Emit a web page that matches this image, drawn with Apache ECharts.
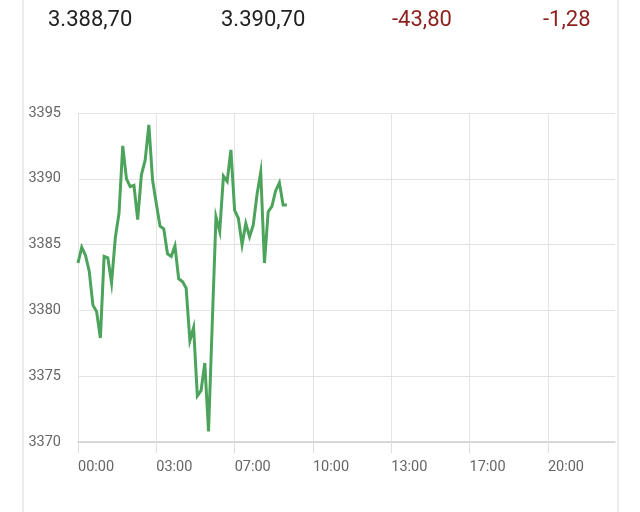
<!DOCTYPE html>
<html>
<head>
<meta charset="utf-8">
<script src="https://cdn.jsdelivr.net/npm/echarts@6/dist/echarts.min.js"></script>
<style>
html,body{margin:0;padding:0;background:#fff;}
#card{position:absolute;left:22px;top:-5px;width:593px;height:530px;border-left:2px solid #ececec;border-right:2px solid #ececec;}
#chart{position:absolute;left:0;top:0;width:640px;height:512px;}
</style>
</head>
<body>
<div id="card"></div>
<div id="chart"></div>
<script>
// header quote values
var headerTexts = ['3.388,70', '3.390,70', '-43,80', '-1,28'];
var headerNegative = [false, false, true, true];

// x axis tick labels, one every 21 data slots
var xTickLabels = ['00:00', '03:00', '07:00', '10:00', '13:00', '17:00', '20:00'];
var slotsPerLabel = 21;
var totalSlots = 144;

// price values, one per slot from the start of the day
var prices = [
  3383.6, 3384.8, 3384.2, 3383.0, 3380.4, 3379.9, 3377.9, 3384.1, 3384.0, 3382.1,
  3385.5, 3387.4, 3392.5, 3390.0, 3389.4, 3389.5, 3386.9, 3390.3, 3391.4, 3394.1,
  3389.9, 3388.1, 3386.4, 3386.2, 3384.3, 3384.1, 3384.9, 3382.4, 3382.2, 3381.7,
  3377.7, 3378.7, 3373.5, 3373.9, 3376.0, 3370.8, 3379.0, 3387.1, 3386.0, 3390.2,
  3389.8, 3392.2, 3387.6, 3387.0, 3385.0, 3386.6, 3385.6, 3386.5, 3388.8, 3390.5,
  3383.6, 3387.5, 3387.9, 3389.1, 3389.7, 3388.0, 3388.0
];

var yMin = 3370, yMax = 3395, yStep = 5;

var seriesData = prices.map(function (v, i) { return [i, v]; });

var headerX = [48, 221, 392, 543];
var graphics = headerTexts.map(function (t, i) {
  return {
    type: 'text',
    left: headerX[i],
    top: 9,
    style: {
      text: t,
      fontSize: 22,
      fontFamily: 'Roboto, "Noto Sans", sans-serif',
      fill: headerNegative[i] ? '#8e1f1c' : '#222222'
    }
  };
});

var chart = echarts.init(document.getElementById('chart'), null, {renderer: 'canvas'});
chart.setOption({
  animation: false,
  backgroundColor: 'transparent',
  graphic: graphics,
  grid: {left: 78, right: 25, top: 113, bottom: 70, containLabel: false},
  xAxis: {
    type: 'value',
    min: 0,
    max: totalSlots,
    interval: slotsPerLabel,
    axisLine: {show: true, lineStyle: {color: '#cfcfcf', width: 1.5}},
    axisTick: {show: true, length: 11, lineStyle: {color: '#dedede'}},
    axisLabel: {
      show: true,
      color: '#666',
      fontSize: 14.5,
      fontFamily: 'Roboto, sans-serif',
      align: 'left',
      margin: 18,
      showMaxLabel: false,
      formatter: function (v) {
        var k = Math.round(v / slotsPerLabel);
        return (v % slotsPerLabel === 0 && xTickLabels[k]) || '';
      }
    },
    splitLine: {show: true, showMaxLine: false, lineStyle: {color: '#e3e3e3', width: 1}}
  },
  yAxis: {
    type: 'value',
    min: yMin,
    max: yMax,
    interval: yStep,
    axisLine: {show: false},
    axisTick: {show: false},
    axisLabel: {
      color: '#666', fontSize: 14.5, fontFamily: 'Roboto, sans-serif', margin: 17,
      formatter: function (v) { return String(v); }
    },
    splitLine: {show: true, lineStyle: {color: '#e3e3e3', width: 1}}
  },
  series: [{
    type: 'line',
    data: seriesData,
    showSymbol: false,
    symbol: 'none',
    lineStyle: {color: '#4ca35b', width: 3, join: 'miter'},
    z: 5
  }]
});
</script>
</body>
</html>
